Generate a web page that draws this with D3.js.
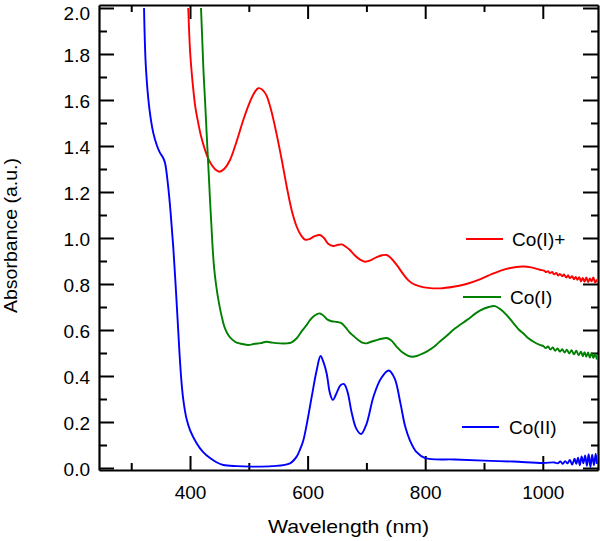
<!DOCTYPE html>
<html>
<head>
<meta charset="utf-8">
<script src="https://cdn.jsdelivr.net/npm/d3@7"></script>
<style>
  html, body { margin: 0; padding: 0; background: #fff; }
  svg { display: block; }
  text { font-family: "Liberation Sans", Arial, sans-serif; fill: #000; }
</style>
</head>
<body>
<svg id="chart" width="600" height="541"></svg>
<script>
// ---- Data (wavelength nm, absorbance a.u.) ----
const coIIplus = [ // Co(I)+ (red)
  [397,2.0],[400,1.817],[402.5,1.73],[405.7,1.643],[409,1.57],[414,1.50],[419,1.44],[425.5,1.383],
  [431,1.345],[437,1.317],[443,1.298],[450,1.288],[458,1.30],[468,1.339],[478,1.41],[490.6,1.513],
  [500,1.58],[508,1.625],[516,1.651],[523,1.645],[530,1.62],[538,1.555],[547,1.455],[556,1.34],
  [564.5,1.223],[573,1.12],[581.5,1.049],[588,1.015],[595.6,0.993],[603,0.995],[612,1.008],[621,1.013],
  [628,1.0],[635,0.975],[643.7,0.965],[651,0.97],[658,0.972],[665,0.962],[672,0.948],[680,0.925],
  [690,0.905],[697.6,0.897],[706,0.902],[717.5,0.917],[727,0.925],[734.5,0.926],[742,0.912],[751.5,0.883],
  [762,0.845],[771,0.817],[780,0.8],[791,0.79],[805,0.783],[825,0.781],[848,0.788],[870,0.8],[893,0.82],
  [915,0.845],[938,0.866],[955,0.874],[967,0.876],[980,0.872],[995,0.862],[1002,0.858],[1006,0.852],
  [1009,0.856],[1012,0.847],[1016,0.852],[1019,0.842],[1023,0.848],[1026,0.837],[1029,0.844],[1033,0.834],
  [1036,0.841],[1040,0.828],[1043,0.838],[1046,0.826],[1050,0.834],[1053,0.82],[1056,0.831],[1059,0.818],
  [1062,0.83],[1065,0.812],[1068,0.826],[1071,0.81],[1074,0.828],[1077,0.808],[1080,0.824],[1083,0.812],
  [1086,0.828],[1089,0.806],[1092,0.82]
];
const coI = [ // Co(I) (green)
  [418.7,2.0],[421,1.85],[423,1.72],[425.5,1.6],[428,1.47],[430,1.368],[432,1.27],[434,1.165],
  [436.5,1.05],[438.6,0.952],[441,0.87],[444,0.803],[449,0.72],[454,0.658],[459,0.61],[465,0.578],
  [472,0.558],[479.4,0.545],[489,0.539],[499,0.535],[510,0.54],[520,0.543],[530,0.549],[540,0.545],
  [553,0.542],[564.5,0.542],[572,0.545],[581.5,0.564],[590,0.595],[598.5,0.622],[604,0.643],[612,0.663],
  [621,0.672],[628,0.66],[634,0.645],[641,0.638],[650,0.635],[658,0.629],[665,0.61],[672,0.588],
  [677.7,0.575],[686,0.557],[693,0.545],[700.5,0.542],[708,0.549],[717.5,0.556],[726,0.562],[734.5,0.565],
  [742,0.555],[751.5,0.527],[760,0.505],[771,0.488],[778,0.484],[785.5,0.487],[795,0.497],[802.5,0.506],
  [815,0.527],[825,0.55],[836.6,0.575],[850,0.605],[870.6,0.643],[893,0.684],[908,0.70],[918.7,0.704],
  [928,0.69],[938.6,0.665],[950,0.63],[960,0.6],[967,0.585],[975,0.565],[985,0.548],[995,0.535],
  [1001,0.53],[1005,0.522],[1009,0.528],[1013,0.515],[1017,0.524],[1021,0.51],[1025,0.52],[1029,0.506],
  [1033,0.516],[1037,0.502],[1041,0.514],[1045,0.498],[1049,0.512],[1053,0.494],[1057,0.51],[1061,0.49],
  [1065,0.506],[1068,0.486],[1071,0.504],[1074,0.484],[1077,0.502],[1080,0.48],[1083,0.5],[1086,0.478],
  [1089,0.496],[1092,0.472]
];
const coII = [ // Co(II) (blue)
  [321.8,2.0],[325,1.74],[331,1.56],[337.6,1.456],[344,1.40],[349,1.37],[354,1.35],[357.5,1.326],
  [363,1.22],[367,1.11],[371.6,0.957],[377,0.73],[381.8,0.513],[385,0.39],[388.6,0.296],[394,0.215],
  [400,0.165],[411,0.109],[422,0.07],[434,0.043],[445,0.025],[456.6,0.013],[480,0.008],[502,0.006],
  [540,0.008],[570,0.02],[581.5,0.05],[587,0.08],[592.7,0.12],[600,0.21],[607,0.31],[615.5,0.426],
  [622,0.487],[627,0.46],[632.5,0.41],[638,0.325],[643,0.296],[650,0.33],[656,0.36],[662,0.365],
  [668,0.33],[675,0.24],[683,0.17],[691,0.148],[700,0.19],[712,0.31],[725,0.39],[738,0.424],
  [748,0.39],[758,0.28],[766,0.18],[774,0.12],[785,0.07],[800,0.043],[850,0.037],[900,0.032],
  [950,0.028],[1000,0.022],[1020,0.024],[1025,0.02],[1030,0.028],[1034,0.018],[1038,0.03],[1042,0.02],
  [1046,0.035],[1050,0.015],[1054,0.04],[1057,0.018],[1060,0.045],[1063,0.012],[1066,0.05],[1069,0.02],
  [1072,0.055],[1075,0.01],[1078,0.06],[1081,0.005],[1084,0.058],[1087,0.012],[1090,0.062],[1092,0.018]
];

const seriesNames = ["Co(I)+", "Co(I)", "Co(II)"];
const seriesColors = ["#ff0000", "#008000", "#0000ff"];
const xMajorTicks = [400, 600, 800, 1000];
const xMinorTicks = [300, 500, 700, 900];
const yMajorTicks = [0.0, 0.2, 0.4, 0.6, 0.8, 1.0, 1.2, 1.4, 1.6, 1.8, 2.0];
const yMinorTicks = [0.1, 0.3, 0.5, 0.7, 0.9, 1.1, 1.3, 1.5, 1.7, 1.9];
const xTitle = "Wavelength (nm)";
const yTitle = "Absorbance (a.u.)";

// ---- Layout ----
const svg = d3.select("#chart");
const L = 99, R = 598, T = 5, B = 470;
const x = d3.scaleLinear().domain([245.2, 1093.9]).range([L, R]);
const y = d3.scaleLinear().domain([-0.0087, 2.013]).range([B, T]);
const FS = 19;

function styleAxis(g) {
  g.selectAll("path.domain").attr("stroke", "#000").attr("stroke-width", 2.2);
  g.selectAll(".tick line").attr("stroke", "#000").attr("stroke-width", 2);
  g.selectAll(".tick text").attr("font-size", FS).attr("font-family", "Liberation Sans, Arial, sans-serif");
}

// bottom
svg.append("g").attr("transform", `translate(0,${B})`)
  .call(d3.axisBottom(x).tickValues(xMajorTicks).tickSizeInner(-14).tickSizeOuter(0).tickPadding(16).tickFormat(d3.format("d")))
  .call(styleAxis);
svg.append("g").attr("transform", `translate(0,${B})`)
  .call(d3.axisBottom(x).tickValues(xMinorTicks).tickSizeInner(-7).tickSizeOuter(0).tickFormat(""))
  .call(styleAxis).call(g => g.select("path.domain").remove());
// top
svg.append("g").attr("transform", `translate(0,${T})`)
  .call(d3.axisTop(x).tickValues(xMajorTicks).tickSizeInner(-14).tickSizeOuter(0).tickFormat(""))
  .call(styleAxis);
svg.append("g").attr("transform", `translate(0,${T})`)
  .call(d3.axisTop(x).tickValues(xMinorTicks).tickSizeInner(-7).tickSizeOuter(0).tickFormat(""))
  .call(styleAxis).call(g => g.select("path.domain").remove());
// left
svg.append("g").attr("transform", `translate(${L},0)`)
  .call(d3.axisLeft(y).tickValues(yMajorTicks).tickSizeInner(-15).tickSizeOuter(0).tickPadding(9).tickFormat(d3.format(".1f")))
  .call(styleAxis)
  .call(g => g.selectAll(".tick text").attr("dy", d => d === 2.0 ? "0.6em" : "0.38em"));
svg.append("g").attr("transform", `translate(${L},0)`)
  .call(d3.axisLeft(y).tickValues(yMinorTicks).tickSizeInner(-8).tickSizeOuter(0).tickFormat(""))
  .call(styleAxis).call(g => g.select("path.domain").remove());
// right
svg.append("g").attr("transform", `translate(${R},0)`)
  .call(d3.axisRight(y).tickValues(yMajorTicks).tickSizeInner(-15).tickSizeOuter(0).tickFormat(""))
  .call(styleAxis);
svg.append("g").attr("transform", `translate(${R},0)`)
  .call(d3.axisRight(y).tickValues(yMinorTicks).tickSizeInner(-7).tickSizeOuter(0).tickFormat(""))
  .call(styleAxis).call(g => g.select("path.domain").remove());

// ---- Curves ----
svg.append("clipPath").attr("id", "clip")
  .append("rect").attr("x", L).attr("y", T).attr("width", R - L).attr("height", B - T);

const line = d3.line()
  .x(d => x(d[0])).y(d => y(d[1]))
  .curve(d3.curveCatmullRom.alpha(0.5));

const allSeries = [coIIplus, coI, coII];
svg.append("g").attr("clip-path", "url(#clip)")
  .selectAll("path").data(allSeries).join("path")
  .attr("d", line)
  .attr("fill", "none")
  .attr("stroke", (d, i) => seriesColors[i])
  .attr("stroke-width", 1.9)
  .attr("stroke-linejoin", "round");

// ---- Legend labels ----
const legendPos = [
  {x1: 466, x2: 503, y: 239, tx: 512},
  {x1: 463, x2: 501, y: 297, tx: 510},
  {x1: 462, x2: 499, y: 427, tx: 509}
];
const lg = svg.append("g");
seriesNames.forEach((name, i) => {
  const p = legendPos[i];
  lg.append("line").attr("x1", p.x1).attr("x2", p.x2).attr("y1", p.y).attr("y2", p.y)
    .attr("stroke", seriesColors[i]).attr("stroke-width", 2);
  lg.append("text").attr("x", p.tx).attr("y", p.y).attr("dy", "0.36em")
    .attr("font-size", FS).text(name);
});

// ---- Axis titles ----
svg.append("text").attr("x", 348.5).attr("y", 533).attr("text-anchor", "middle")
  .attr("font-size", FS).attr("textLength", 161).attr("lengthAdjust", "spacingAndGlyphs").text(xTitle);
svg.append("text").attr("transform", "translate(17,235.5) rotate(-90)").attr("text-anchor", "middle")
  .attr("font-size", FS).attr("textLength", 155).attr("lengthAdjust", "spacingAndGlyphs").text(yTitle);
</script>
</body>
</html>
